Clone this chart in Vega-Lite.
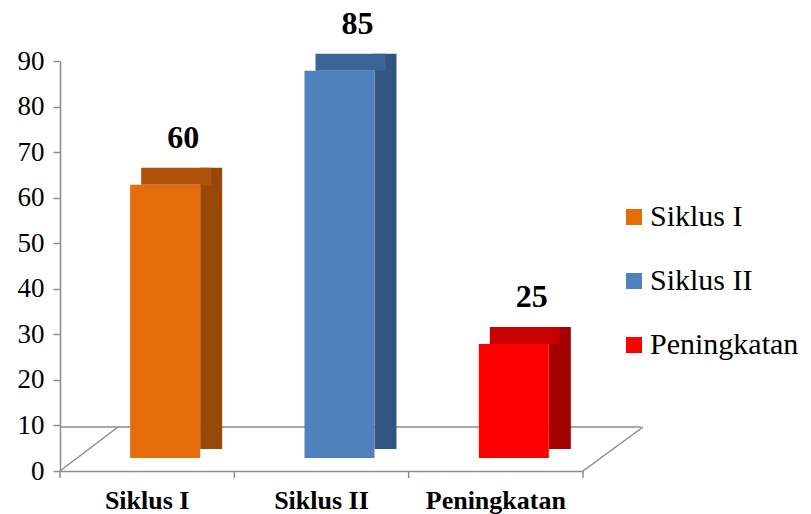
{
  "$schema": "https://vega.github.io/schema/vega-lite/v6.json",
  "autosize": "none",
  "width": 523,
  "height": 410,
  "padding": {"left": 60, "top": 61, "right": 228, "bottom": 43},
  "background": "white",
  "config": {
    "view": {"stroke": null},
    "font": "Liberation Serif",
    "axis": {"grid": false, "domainColor": "#8c8c8c", "tickColor": "#8c8c8c", "domainWidth": 1.5, "tickWidth": 1.5, "labelColor": "black", "labelFont": "Liberation Serif"}
  },
  "data": {"values": [
    {"kategori": "Siklus I", "nilai": 60},
    {"kategori": "Siklus II", "nilai": 85},
    {"kategori": "Peningkatan", "nilai": 25}
  ]},
  "layer": [
    {
      "data": {"values": [{}]},
      "mark": {"type": "rule", "color": "#8c8c8c", "strokeWidth": 1.5, "xOffset": 58, "x2Offset": 60, "yOffset": -44},
      "encoding": {"y": {"datum": 0, "type": "quantitative", "title": null}}
    },
    {
      "data": {"values": [{}]},
      "mark": {"type": "rule", "color": "#8c8c8c", "strokeWidth": 1.5, "x2Offset": 58, "y2Offset": -44},
      "encoding": {
        "x": {"datum": "Siklus I", "type": "nominal", "bandPosition": 0, "title": null},
        "x2": {"datum": "Siklus I", "bandPosition": 0},
        "y": {"datum": 0, "type": "quantitative", "title": null},
        "y2": {"datum": 0}
      }
    },
    {
      "data": {"values": [{}]},
      "mark": {"type": "rule", "color": "#8c8c8c", "strokeWidth": 1.5, "x2Offset": 60, "y2Offset": -44},
      "encoding": {
        "x": {"datum": "Peningkatan", "type": "nominal", "bandPosition": 1, "title": null},
        "x2": {"datum": "Peningkatan", "bandPosition": 1},
        "y": {"datum": 0, "type": "quantitative", "title": null},
        "y2": {"datum": 0}
      }
    },
    {
      "data": {"values": [{}]},
      "mark": {"type": "rule", "color": "#8c8c8c", "strokeWidth": 1.5, "y2Offset": 7},
      "encoding": {
        "x": {"datum": "Peningkatan", "type": "nominal", "bandPosition": 1, "title": null},
        "y": {"datum": 0, "type": "quantitative", "title": null},
        "y2": {"datum": 0}
      }
    },
    {
      "data": {"values": [{}]},
      "mark": {"type": "rule", "color": "#8c8c8c", "strokeWidth": 1.5, "y2Offset": 7},
      "encoding": {
        "x": {"datum": "Siklus II", "type": "nominal", "bandPosition": 0, "title": null},
        "y": {"datum": 0, "type": "quantitative", "title": null},
        "y2": {"datum": 0}
      }
    },
    {
      "data": {"values": [{}]},
      "mark": {"type": "rule", "color": "#8c8c8c", "strokeWidth": 1.5, "y2Offset": 7},
      "encoding": {
        "x": {"datum": "Peningkatan", "type": "nominal", "bandPosition": 0, "title": null},
        "y": {"datum": 0, "type": "quantitative", "title": null},
        "y2": {"datum": 0}
      }
    },
    {
      "data": {"values": [{}]},
      "mark": {"type": "rule", "color": "#8c8c8c", "strokeWidth": 1.5, "y2Offset": 7},
      "encoding": {
        "x": {"datum": "Siklus I", "type": "nominal", "bandPosition": 0, "title": null},
        "y": {"datum": 0, "type": "quantitative", "title": null},
        "y2": {"datum": 0}
      }
    },
    {
      "mark": {"type": "bar", "width": 22, "xOffset": 64, "yOffset": -30, "y2Offset": -22},
      "encoding": {
        "x": {"field": "kategori", "type": "nominal", "sort": null, "title": null},
        "y": {"field": "nilai", "type": "quantitative", "title": null},
        "y2": {"datum": 0},
        "color": {"field": "kategori", "type": "nominal", "legend": null,
          "scale": {"domain": ["Siklus I", "Siklus II", "Peningkatan"], "range": ["#984807", "#34557F", "#A50000"]}}
      }
    },
    {
      "mark": {"type": "bar", "width": 70, "xOffset": 29, "yOffset": -30, "y2Offset": -13},
      "encoding": {
        "x": {"field": "kategori", "type": "nominal", "sort": null, "title": null},
        "y": {"field": "nilai", "type": "quantitative", "title": null},
        "y2": {"field": "nilai"},
        "color": {"field": "kategori", "type": "nominal", "legend": null,
          "scale": {"domain": ["Siklus I", "Siklus II", "Peningkatan"], "range": ["#B0530A", "#3C6496", "#C80000"]}}
      }
    },
    {
      "mark": {"type": "bar", "width": 70, "xOffset": 18, "yOffset": -13, "y2Offset": -13},
      "encoding": {
        "x": {"field": "kategori", "type": "nominal", "sort": null, "title": null,
          "scale": {"domain": ["Siklus I", "Siklus II", "Peningkatan"], "paddingInner": 0, "paddingOuter": 0},
          "axis": {"ticks": false, "bandPosition": 0.5, "labelAlign": "center", "labelOffset": 0, "labelFontSize": 26, "labelFontWeight": "bold", "labelAngle": 0, "labelPadding": 29}},
        "y": {"field": "nilai", "type": "quantitative", "title": null,
          "scale": {"domain": [0, 90], "nice": false},
          "axis": {"values": [0, 10, 20, 30, 40, 50, 60, 70, 80, 90], "ticks": true, "tickSize": 7, "labelPadding": 9, "labelFontSize": 27}},
        "color": {"field": "kategori", "type": "nominal",
          "scale": {"domain": ["Siklus I", "Siklus II", "Peningkatan"], "range": ["#E46C0A", "#4F81BD", "#FF0000"]},
          "legend": {"title": null, "orient": "none", "legendX": 559, "legendY": 141, "symbolType": "square", "symbolSize": 256, "symbolStrokeWidth": 0, "labelFontSize": 30, "labelFont": "Liberation Serif", "labelColor": "black", "rowPadding": 34, "labelOffset": 1, "padding": 0}}
      }
    },
    {
      "mark": {"type": "text", "font": "Liberation Serif", "fontSize": 32, "fontWeight": "bold", "baseline": "alphabetic", "xOffset": 36, "dy": -50, "color": "black"},
      "encoding": {
        "x": {"field": "kategori", "type": "nominal", "sort": null, "title": null},
        "y": {"field": "nilai", "type": "quantitative", "title": null},
        "text": {"field": "nilai", "type": "quantitative"}
      }
    }
  ],
  "resolve": {"scale": {"color": "independent"}}
}
